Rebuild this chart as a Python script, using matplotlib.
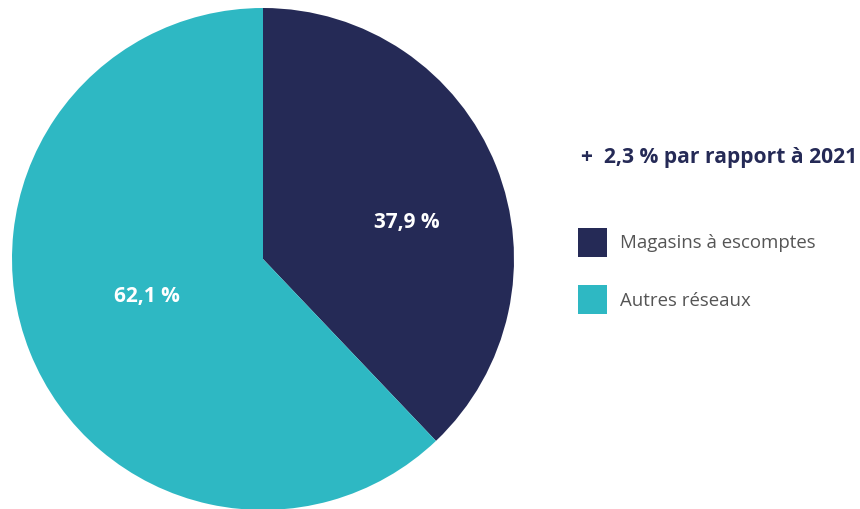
import matplotlib
matplotlib.use("Agg")
import matplotlib.pyplot as plt
from matplotlib.patches import Rectangle

categories = ["Magasins à escomptes", "Autres réseaux"]
values = [37.9, 62.1]
labels = ["37,9 %", "62,1 %"]
colors = ["#252A56", "#2EB8C3"]
subtitle = "+  2,3 % par rapport à 2021"

plt.rcParams['font.family'] = ['Open Sans', 'DejaVu Sans']

W, H = 860, 510
fig = plt.figure(figsize=(W/100, H/100), dpi=100)
cx, cy, r = 263, 260, 251
ax = fig.add_axes([(cx - r)/W, (H - cy - r)/H, 2*r/W, 2*r/H])
wedges, _ = ax.pie(values, colors=colors, startangle=90, counterclock=False,
                   radius=1.0, wedgeprops=dict(linewidth=0))
ax.set_xlim(-1, 1)
ax.set_ylim(-1, 1)
ax.set_aspect('equal')
ax.axis('off')

label_pos = [(0.574, 0.148), (-0.462, -0.146)]
for (x, y), t in zip(label_pos, labels):
    ax.text(x, y, t, ha='center', va='center', color='white',
            fontsize=15, fontweight='bold')

fig.text(581/W, 1 - 158/H, subtitle, ha='left', va='center',
         color=colors[0], fontsize=15.1, fontweight='bold')

box_y = [229, 286]
for yy, c, name in zip(box_y, colors, categories):
    fig.patches.append(Rectangle((578/W, 1 - (yy + 29)/H), 29/W, 29/H,
                                 transform=fig.transFigure, facecolor=c,
                                 edgecolor='none'))
    fig.text(620/W, 1 - (yy + 14.5)/H, name, ha='left', va='center',
             color='#555555', fontsize=13.4)

fig.savefig("out.png", dpi=100)
